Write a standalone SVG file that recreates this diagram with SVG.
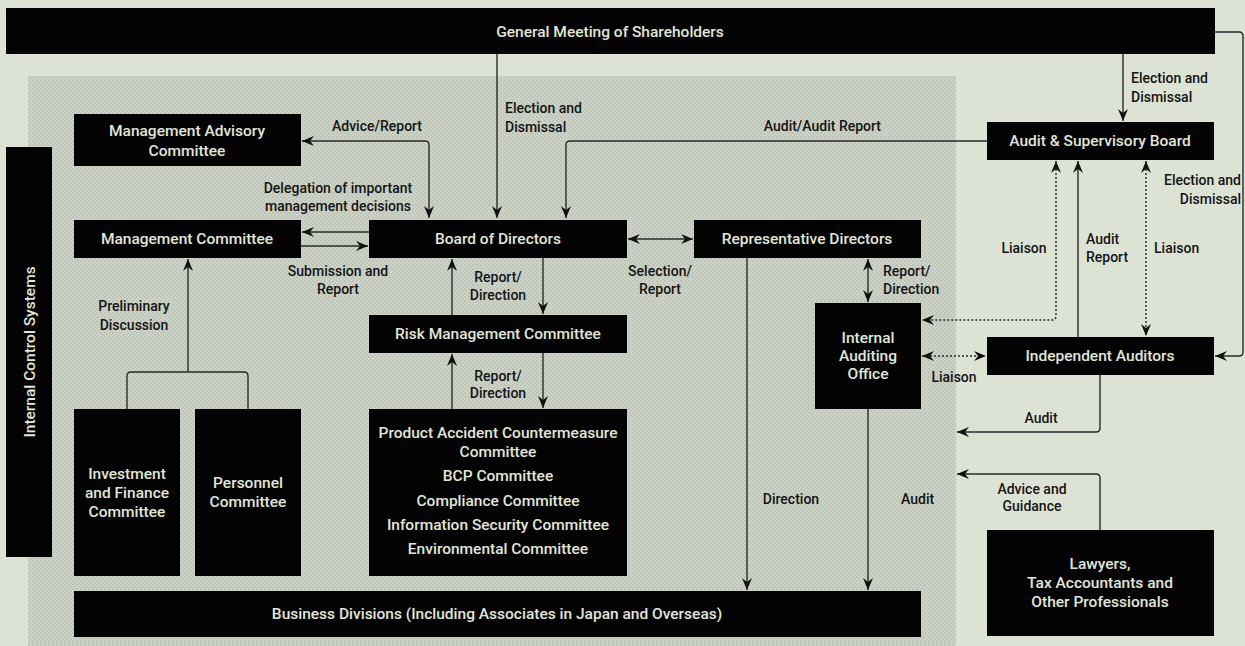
<svg xmlns="http://www.w3.org/2000/svg" width="1245" height="646" viewBox="0 0 1245 646">
<defs>
<style>
.box{fill:#030303}
.bt{fill:#e2e6da;font-family:Roboto,"Liberation Sans",sans-serif;font-weight:500;font-size:15.5px;text-anchor:middle}
.lt{fill:#141414;font-family:Roboto,"Liberation Sans",sans-serif;font-weight:500;font-size:14px}
.c{text-anchor:middle}
.r{text-anchor:end}
.ln{fill:none;stroke:#2a2a2a;stroke-width:1.4}
.dl{fill:none;stroke:#2a2a2a;stroke-width:1.4;stroke-dasharray:2 2}
</style>
<pattern id="dots" width="4" height="4" patternUnits="userSpaceOnUse">
<rect width="4" height="4" fill="#ccd2c6"/>
<circle cx="1" cy="1" r="0.9" fill="#b8beb2"/>
<circle cx="3" cy="3" r="0.9" fill="#bfc5b9"/>
</pattern>
<marker id="ah" markerUnits="userSpaceOnUse" markerWidth="12" markerHeight="10" viewBox="0 0 12 10" refX="12" refY="5" orient="auto-start-reverse">
<path d="M0,0 L12,5 L0,10 L4,5 z" fill="#111"/>
</marker>
</defs>
<rect width="1245" height="646" fill="#dce3d4"/>
<rect x="28" y="76" width="928" height="570" fill="url(#dots)"/>

<g id="connectors">
<path class="ln" d="M429,218 V145 Q429,141 425,141 H302" marker-start="url(#ah)" marker-end="url(#ah)"/>
<path class="ln" d="M497,54 V218" marker-end="url(#ah)"/>
<path class="ln" d="M987,141 H570 Q566,141 566,145 V218" marker-end="url(#ah)"/>
<path class="ln" d="M369,232 H302" marker-end="url(#ah)"/>
<path class="ln" d="M301,246 H368" marker-end="url(#ah)"/>
<path class="ln" d="M628,239 H693" marker-start="url(#ah)" marker-end="url(#ah)"/>
<path class="ln" d="M543,258 V314" marker-end="url(#ah)"/>
<path class="ln" d="M452,315 V259" marker-end="url(#ah)"/>
<path class="ln" d="M543,353 V408" marker-end="url(#ah)"/>
<path class="ln" d="M452,409 V354" marker-end="url(#ah)"/>
<path class="ln" d="M127,409 V376 Q127,372 131,372 H244 Q248,372 248,376 V409"/>
<path class="ln" d="M188,372 V259" marker-end="url(#ah)"/>
<path class="ln" d="M747,258 V590" marker-end="url(#ah)"/>
<path class="ln" d="M868,259 V302" marker-start="url(#ah)" marker-end="url(#ah)"/>
<path class="ln" d="M868,409 V590" marker-end="url(#ah)"/>
<path class="ln" d="M1123,54 V121" marker-end="url(#ah)"/>
<path class="dl" d="M1056,161 V316 Q1056,320 1052,320 H922" marker-start="url(#ah)" marker-end="url(#ah)"/>
<path class="ln" d="M1078,337 V161" marker-end="url(#ah)"/>
<path class="dl" d="M1146,161 V336" marker-start="url(#ah)" marker-end="url(#ah)"/>
<path class="dl" d="M922,356 H986" marker-start="url(#ah)" marker-end="url(#ah)"/>
<path class="ln" d="M1100,375 V428 Q1100,432 1096,432 H957" marker-end="url(#ah)"/>
<path class="ln" d="M1100,530 V478 Q1100,474 1096,474 H957" marker-end="url(#ah)"/>
<path class="ln" d="M1215,32 H1239 Q1243,32 1243,36 V352 Q1243,356 1239,356 H1215" marker-end="url(#ah)"/>
</g>

<g id="labels">
<text class="lt" x="332" y="131">Advice/Report</text>
<text class="lt" x="505" y="113">Election and</text>
<text class="lt" x="505" y="132">Dismissal</text>
<text class="lt r" x="881" y="131">Audit/Audit Report</text>
<text class="lt c" x="338" y="193">Delegation of important</text>
<text class="lt c" x="338" y="211">management decisions</text>
<text class="lt c" x="338" y="276">Submission and</text>
<text class="lt c" x="338" y="294">Report</text>
<text class="lt c" x="134" y="311">Preliminary</text>
<text class="lt c" x="134" y="330">Discussion</text>
<text class="lt c" x="498" y="282">Report/</text>
<text class="lt c" x="498" y="300">Direction</text>
<text class="lt c" x="498" y="381">Report/</text>
<text class="lt c" x="498" y="398">Direction</text>
<text class="lt c" x="660" y="276">Selection/</text>
<text class="lt c" x="660" y="294">Report</text>
<text class="lt" x="883" y="276">Report/</text>
<text class="lt" x="883" y="294">Direction</text>
<text class="lt c" x="791" y="504">Direction</text>
<text class="lt" x="901" y="504">Audit</text>
<text class="lt" x="1131" y="83">Election and</text>
<text class="lt" x="1131" y="102">Dismissal</text>
<text class="lt r" x="1241" y="185">Election and</text>
<text class="lt r" x="1241" y="204">Dismissal</text>
<text class="lt c" x="1024" y="253">Liaison</text>
<text class="lt" x="1086" y="244">Audit</text>
<text class="lt" x="1086" y="262">Report</text>
<text class="lt" x="1154" y="253">Liaison</text>
<text class="lt c" x="954" y="382">Liaison</text>
<text class="lt c" x="1041" y="423">Audit</text>
<text class="lt c" x="1032" y="494">Advice and</text>
<text class="lt c" x="1032" y="511">Guidance</text>
</g>

<g id="gms"><rect class="box" x="6" y="8" width="1209" height="46"/><text class="bt" x="610" y="37">General Meeting of Shareholders</text></g>
<g id="ics"><rect class="box" x="6" y="147" width="46" height="410"/><text class="bt" transform="translate(35,352) rotate(-90)">Internal Control Systems</text></g>
<g id="mac"><rect class="box" x="74" y="114" width="227" height="52"/><text class="bt" x="187" y="136">Management Advisory</text><text class="bt" x="187" y="156">Committee</text></g>
<g id="mc"><rect class="box" x="74" y="220" width="227" height="38"/><text class="bt" x="187" y="244">Management Committee</text></g>
<g id="bod"><rect class="box" x="369" y="220" width="258" height="38"/><text class="bt" x="498" y="244">Board of Directors</text></g>
<g id="rep"><rect class="box" x="694" y="220" width="227" height="38"/><text class="bt" x="807" y="244">Representative Directors</text></g>
<g id="rmc"><rect class="box" x="369" y="315" width="258" height="38"/><text class="bt" x="498" y="339">Risk Management Committee</text></g>
<g id="pac"><rect class="box" x="369" y="409" width="258" height="167"/>
<text class="bt" x="498" y="438">Product Accident Countermeasure</text>
<text class="bt" x="498" y="457">Committee</text>
<text class="bt" x="498" y="481">BCP Committee</text>
<text class="bt" x="498" y="506">Compliance Committee</text>
<text class="bt" x="498" y="530">Information Security Committee</text>
<text class="bt" x="498" y="554">Environmental Committee</text></g>
<g id="ifc"><rect class="box" x="74" y="409" width="106" height="167"/><text class="bt" x="127" y="479">Investment</text><text class="bt" x="127" y="498">and Finance</text><text class="bt" x="127" y="517">Committee</text></g>
<g id="pc"><rect class="box" x="195" y="409" width="106" height="167"/><text class="bt" x="248" y="488">Personnel</text><text class="bt" x="248" y="507">Committee</text></g>
<g id="bd"><rect class="box" x="74" y="591" width="847" height="46"/><text class="bt" x="497" y="619">Business Divisions (Including Associates in Japan and Overseas)</text></g>
<g id="iao"><rect class="box" x="815" y="303" width="106" height="106"/><text class="bt" x="868" y="343">Internal</text><text class="bt" x="868" y="361">Auditing</text><text class="bt" x="868" y="379">Office</text></g>
<g id="asb"><rect class="box" x="987" y="122" width="227" height="38"/><text class="bt" x="1100" y="146">Audit &amp; Supervisory Board</text></g>
<g id="ia"><rect class="box" x="987" y="337" width="227" height="38"/><text class="bt" x="1100" y="361">Independent Auditors</text></g>
<g id="law"><rect class="box" x="987" y="530" width="227" height="106"/><text class="bt" x="1100" y="569">Lawyers,</text><text class="bt" x="1100" y="588">Tax Accountants and</text><text class="bt" x="1100" y="607">Other Professionals</text></g>
</svg>
